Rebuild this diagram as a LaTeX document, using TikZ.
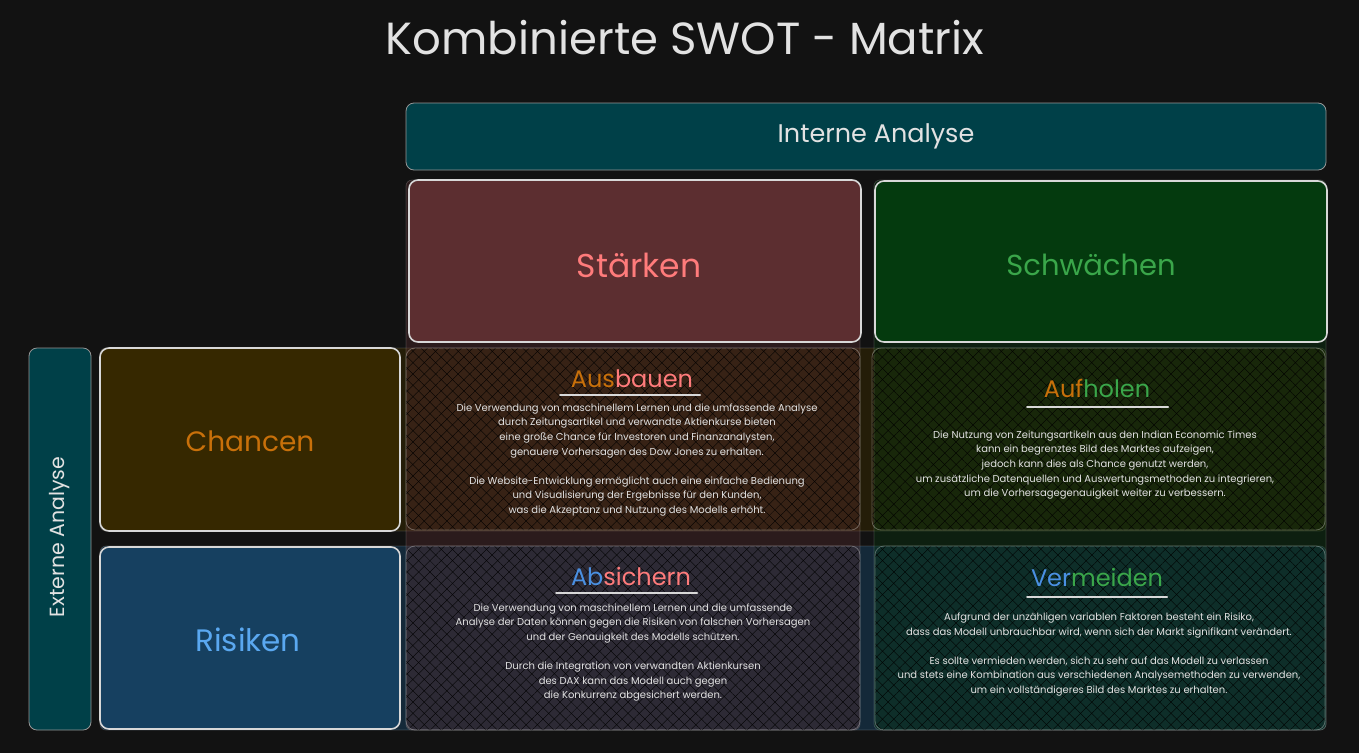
\documentclass[tikz,border=0pt]{standalone}
\usepackage{fontspec}
\setmainfont{Poppins}
\usetikzlibrary{patterns.meta}

\definecolor{bgc}{HTML}{121212}
\definecolor{tealc}{HTML}{004048}
\definecolor{strengthc}{HTML}{5C2E30}
\definecolor{weakc}{HTML}{043A0E}
\definecolor{chancec}{HTML}{362800}
\definecolor{riskc}{HTML}{164060}
\definecolor{redtxt}{HTML}{FF7B7B}
\definecolor{greentxt}{HTML}{3AA64A}
\definecolor{orangetxt}{HTML}{C8700A}
\definecolor{bluetxt}{HTML}{5AA8F0}
\definecolor{bluehead}{HTML}{4A90E2}
\definecolor{inkc}{HTML}{E2E2E2}
\definecolor{edgec}{HTML}{D8D8D8}

\begin{document}
\begin{tikzpicture}[x=1pt,y=-1pt,
  headbox/.style={draw=edgec, line width=1.6pt, rounded corners=9pt, inner sep=0pt},
  axisbox/.style={draw=edgec!70!black, line width=0.8pt, fill=tealc, rounded corners=8pt, inner sep=0pt},
  axistxt/.style={text=inkc, inner sep=0pt},
  band/.style={fill opacity=#1, draw=white, draw opacity=0.18, line width=0.7pt, rounded corners=6pt},
  cell/.style={draw=white, draw opacity=0.3, line width=0.8pt, rounded corners=9pt},
  hatch/.style={pattern={Lines[angle=#1,distance=8pt,line width=0.35pt]}, pattern color=black, fill opacity=0.12},
  bigtxt/.style={font=\fontsize{#1}{32}\selectfont},
  quadhead/.style={font=\fontsize{24}{28}\selectfont, inner sep=1pt},
  uline/.style={draw=edgec, line width=2pt, line cap=round},
  body/.style={text=inkc, align=center, inner sep=0pt, font=\fontsize{10}{14.6}\selectfont}]

% canvas
\fill[bgc] (0,0) rectangle (1359,753);
\useasboundingbox (0,0) rectangle (1359,753);

% title
\node[text=inkc, font=\fontsize{45}{50}\selectfont] (title) at (685,38) {Kombinierte SWOT - Matrix};

% translucent row and column bands that tint the four quadrants
\path[band=0.5, fill=chancec]    (100,348) rectangle (1326,531);
\path[band=0.5, fill=riskc]      (100,546) rectangle (1326,730);
\path[band=0.35, fill=strengthc] (406,180) rectangle (860,730);
\path[band=0.35, fill=weakc]     (874,180) rectangle (1326,730);

% quadrant cells with a light hachure
\foreach \xa/\ya/\xb/\yb in {406/348/860/530, 872/348/1325/530, 406/546/860/730, 875/546/1325/730}{
  \path[hatch=45, rounded corners=9pt] (\xa,\ya) rectangle (\xb,\yb);
  \path[hatch=-45, rounded corners=9pt] (\xa,\ya) rectangle (\xb,\yb);
  \path[cell] (\xa,\ya) rectangle (\xb,\yb);
}

% axis headers
\node[axisbox, minimum width=920pt, minimum height=67pt] (intern) at (866,136.5) {};
\node[axistxt, font=\fontsize{25.5}{28}\selectfont] (internlbl) at (876,136) {Interne Analyse};
\node[axisbox, minimum width=62pt, minimum height=382pt] (extern) at (60,539) {};
\node[axistxt, rotate=90, font=\fontsize{20.5}{24}\selectfont] (externlbl) at (60,537) {Externe Analyse};

% SWOT headers
\node[headbox, fill=strengthc, minimum width=452pt, minimum height=162pt] (staerken) at (635,261) {};
\node[text=redtxt, bigtxt=33] (staerkenlbl) at (639,265) {Stärken};
\node[headbox, fill=weakc, minimum width=452pt, minimum height=161pt] (schwaechen) at (1101,261.5) {};
\node[text=greentxt, bigtxt=29] (schwaechenlbl) at (1091,265) {Schwächen};
\node[headbox, fill=chancec, minimum width=300pt, minimum height=183pt] (chancen) at (250,439.5) {};
\node[text=orangetxt, bigtxt=28] (chancenlbl) at (250,441) {Chancen};
\node[headbox, fill=riskc, minimum width=300pt, minimum height=182pt] (risiken) at (250,638) {};
\node[text=bluetxt, bigtxt=31] (risikenlbl) at (248,640) {Risiken};

% SO: Ausbauen
\node[quadhead] (so) at (632,379) {{\color{orangetxt}Aus}{\color{redtxt}bauen}};
\draw[uline] (560,395) -- (700,395);
\node[body] (sotxt) at (637,460) {Die Verwendung von maschinellem Lernen und die umfassende Analyse\\
durch Zeitungsartikel und verwandte Aktienkurse bieten\\
eine große Chance für Investoren und Finanzanalysten,\\
genauere Vorhersagen des Dow Jones zu erhalten.\\[14.6pt]
Die Website-Entwicklung ermöglicht auch eine einfache Bedienung\\
und Visualisierung der Ergebnisse für den Kunden,\\
was die Akzeptanz und Nutzung des Modells erhöht.};

% WO: Aufholen
\node[quadhead] (wo) at (1097,388) {{\color{orangetxt}Auf}{\color{greentxt}holen}};
\draw[uline] (1027,407) -- (1168,407);
\node[body] (wotxt) at (1095,465) {Die Nutzung von Zeitungsartikeln aus den Indian Economic Times\\
kann ein begrenztes Bild des Marktes aufzeigen,\\
jedoch kann dies als Chance genutzt werden,\\
um zusätzliche Datenquellen und Auswertungsmethoden zu integrieren,\\
um die Vorhersagegenauigkeit weiter zu verbessern.};

% ST: Absichern
\node[quadhead] (st) at (631,576) {{\color{bluehead}Ab}{\color{redtxt}sichern}};
\draw[uline] (556,593) -- (697,593);
\node[body] (sttxt) at (633,652.5) {Die Verwendung von maschinellem Lernen und die umfassende\\
Analyse der Daten können gegen die Risiken von falschen Vorhersagen\\
und der Genauigkeit des Modells schützen.\\[14.6pt]
Durch die Integration von verwandten Aktienkursen\\
des DAX kann das Modell auch gegen\\
die Konkurrenz abgesichert werden.};

% WT: Vermeiden
\node[quadhead] (wt) at (1097,577) {{\color{bluehead}Ver}{\color{greentxt}meiden}};
\draw[uline] (1027,597) -- (1167,597);
\node[body] (wttxt) at (1099,654.5) {Aufgrund der unzähligen variablen Faktoren besteht ein Risiko,\\
dass das Modell unbrauchbar wird, wenn sich der Markt signifikant verändert.\\[14.6pt]
Es sollte vermieden werden, sich zu sehr auf das Modell zu verlassen\\
und stets eine Kombination aus verschiedenen Analysemethoden zu verwenden,\\
um ein vollständigeres Bild des Marktes zu erhalten.};
\end{tikzpicture}
\end{document}
